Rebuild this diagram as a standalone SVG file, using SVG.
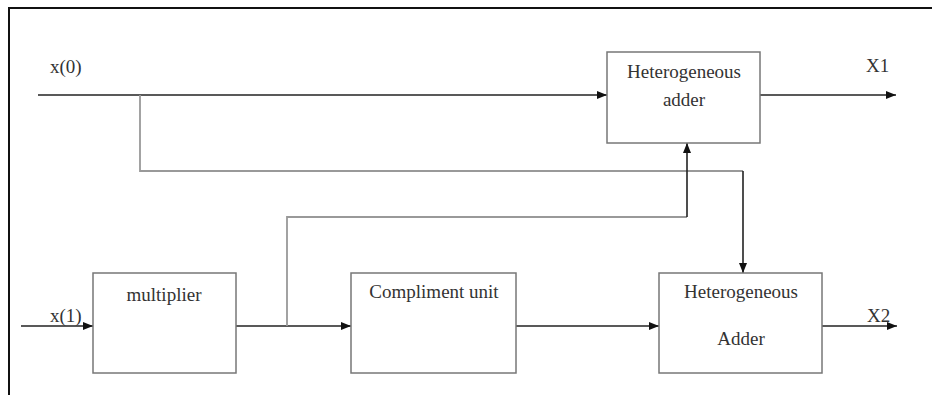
<svg xmlns="http://www.w3.org/2000/svg" width="932" height="395" viewBox="0 0 932 395">
<style>
.box{fill:#fff;stroke:#777;stroke-width:1.5}
.t{font-family:"Liberation Serif","Times New Roman",serif;font-size:19px;fill:#333}
.w{stroke:#222;stroke-width:1.6;fill:none}
.g{stroke:#999;stroke-width:1.8;fill:none}
</style>
<defs>
<marker id="ah" viewBox="0 0 10 8" refX="10" refY="4" markerWidth="10" markerHeight="8" markerUnits="userSpaceOnUse" orient="auto">
<path d="M0,0 L10,4 L0,8 z" fill="#111"/>
</marker>
</defs>
<rect width="932" height="395" fill="#fff"/>
<path d="M9,395 V8 H932" stroke="#111" stroke-width="2" fill="none"/>
<g id="connectors">
<path class="w" d="M38,95 H607" marker-end="url(#ah)"/>
<path class="w" d="M760,95 H896" marker-end="url(#ah)"/>
<path class="g" d="M140,95 V171 H743"/>
<path class="w" d="M743,171 V273" marker-end="url(#ah)"/>
<path class="w" d="M21,326 H93" marker-end="url(#ah)"/>
<path class="w" d="M236,326 H351" marker-end="url(#ah)"/>
<path class="g" d="M287,326 V217 H687"/>
<path class="w" d="M687,217 V143" marker-end="url(#ah)"/>
<path class="w" d="M516,326 H659" marker-end="url(#ah)"/>
<path class="w" d="M822,326 H897" marker-end="url(#ah)"/>
</g>
<g id="label-x0"><text class="t" x="50" y="73">x(0)</text></g>
<g id="label-x1"><text class="t" x="50" y="322">x(1)</text></g>
<g id="label-X1"><text class="t" x="866" y="72">X1</text></g>
<g id="label-X2"><text class="t" x="867" y="322">X2</text></g>
<g id="adder1">
<rect class="box" x="607" y="52" width="153" height="91"/>
<text class="t" x="684" y="78" text-anchor="middle">Heterogeneous</text>
<text class="t" x="684" y="106" text-anchor="middle">adder</text>
</g>
<g id="multiplier">
<rect class="box" x="93" y="273" width="143" height="100"/>
<text class="t" x="164" y="301" text-anchor="middle">multiplier</text>
</g>
<g id="compliment">
<rect class="box" x="351" y="273" width="165" height="100"/>
<text class="t" x="434" y="298" text-anchor="middle">Compliment unit</text>
</g>
<g id="adder2">
<rect class="box" x="659" y="273" width="163" height="100"/>
<text class="t" x="741" y="298" text-anchor="middle">Heterogeneous</text>
<text class="t" x="741" y="345" text-anchor="middle">Adder</text>
</g>
</svg>
